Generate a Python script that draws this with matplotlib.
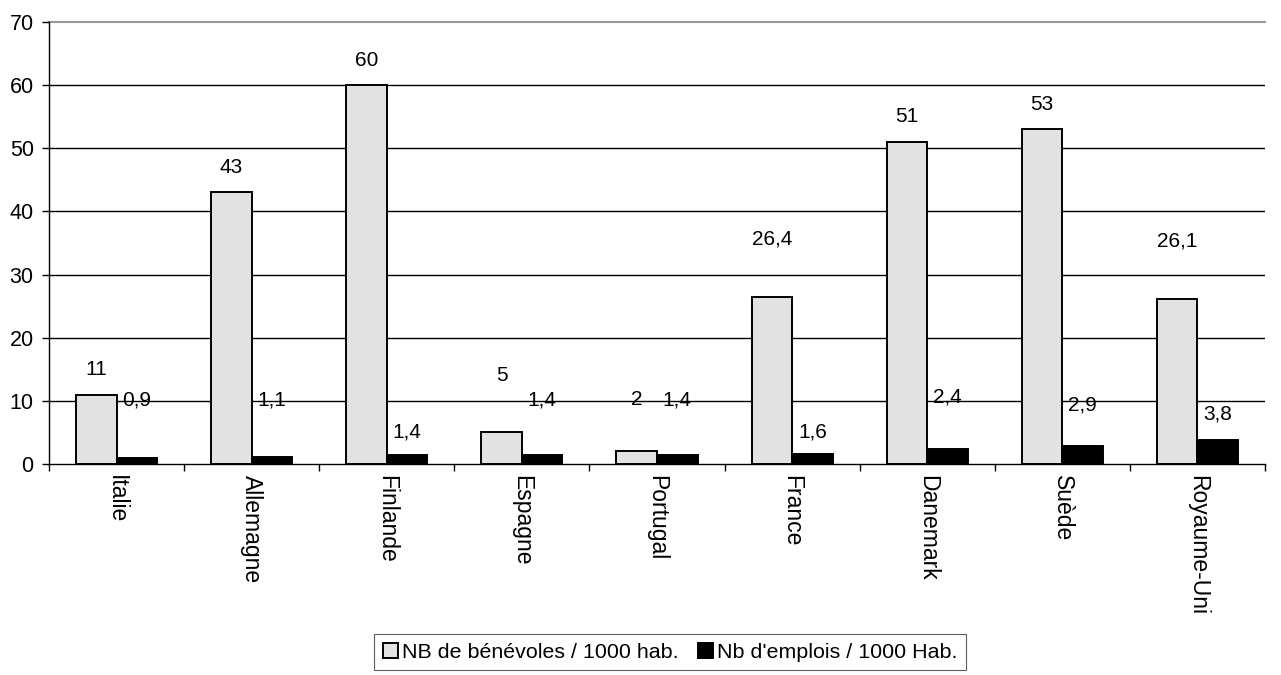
import numpy as np
from matplotlib import pyplot as plt

plt.rcParams['font.family'] = ['Liberation Sans', 'DejaVu Sans']

pays = ["Italie", "Allemagne", "Finlande", "Espagne", "Portugal",
        "France", "Danemark", "Suède", "Royaume-Uni"]
benevoles = [11, 43, 60, 5, 2, 26.4, 51, 53, 26.1]
emplois = [0.9, 1.1, 1.4, 1.4, 1.4, 1.6, 2.4, 2.9, 3.8]
ticks_y = range(0, 71, 10)

# decalage des etiquettes au-dessus des barres (points), comme dans l'original
off_ben = [18, 18, 18, 41, 37, 42, 18, 18, 42]
off_emp = [42, 41, 17, 40, 40, 16, 37, 29, 19]

def fmt(v):
    return "{:g}".format(v).replace(".", ",")

fig = plt.figure(figsize=(12.81, 6.75), dpi=100)
ax = fig.add_axes([49/1281, 1-464/675, 1216/1281, 442/675])

x = np.arange(len(pays))
w = 0.3
b1 = ax.bar(x - w/2, benevoles, w, color="#e2e2e2", edgecolor="black",
            linewidth=1.4, label="NB de bénévoles / 1000 hab.", zorder=3)
b2 = ax.bar(x + w/2, emplois, w, color="black", edgecolor="black",
            linewidth=1.4, label="Nb d'emplois / 1000 Hab.", zorder=3)

for i in range(len(pays)):
    ax.annotate(fmt(benevoles[i]), (x[i] - w/2, benevoles[i]),
                xytext=(0, off_ben[i]), textcoords="offset points",
                ha="center", va="center", fontsize=15)
    ax.annotate(fmt(emplois[i]), (x[i] + w/2, emplois[i]),
                xytext=(0, off_emp[i]), textcoords="offset points",
                ha="center", va="center", fontsize=15)

ax.set_xlim(-0.5, len(pays) - 0.5)
ax.set_ylim(0, 70)
ax.set_yticks(ticks_y)
ax.tick_params(axis="y", labelsize=15.5, length=5, width=1, direction="out", pad=6)

# grille horizontale noire, ligne du haut grise
for t in ticks_y[1:-1]:
    ax.axhline(t, color="black", linewidth=1, zorder=1)
ax.axhline(70, color="#999999", linewidth=1.5, zorder=1, clip_on=False)

ax.set_xticks(x)
ax.set_xticklabels(pays, rotation=-90, fontsize=16.5, va="top", ha="center")
ax.tick_params(axis="x", length=0, pad=8)
ax.set_xticks(np.arange(len(pays) + 1) - 0.5, minor=True)
ax.tick_params(axis="x", which="minor", length=5, width=1)

for s in ["top", "right"]:
    ax.spines[s].set_visible(False)
ax.spines["left"].set_linewidth(1)
ax.spines["bottom"].set_linewidth(1)

leg = fig.legend(handles=[b1, b2], loc="upper center",
                 bbox_to_anchor=(670/1281, 1-634/675), ncol=2,
                 fontsize=15.4, frameon=True, fancybox=False,
                 edgecolor="#333333", handlelength=0.7, handleheight=0.7,
                 handletextpad=0.2, columnspacing=0.9, borderpad=0.4,
                 borderaxespad=0)
leg.get_frame().set_linewidth(0.8)

fig.savefig("out.png", dpi=100)
